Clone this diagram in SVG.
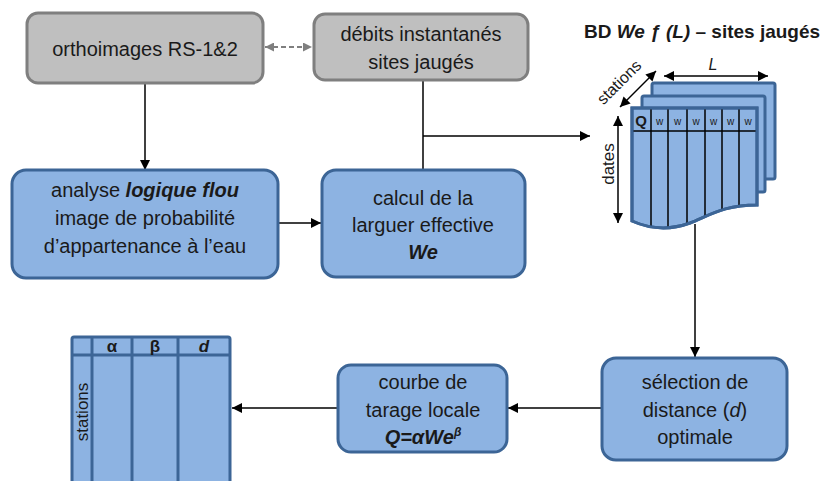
<svg xmlns="http://www.w3.org/2000/svg" width="823" height="481" viewBox="0 0 823 481">
<defs>
<style>
text{font-family:"Liberation Sans","Noto Sans",sans-serif;fill:#1a1a1a;}
.t{font-size:20px;text-anchor:middle;}
.title{font-size:19px;font-weight:bold;text-anchor:middle;}
.b{font-weight:bold;}
.i{font-style:italic;}
.gray{fill:#BFBFBF;stroke:#7F7F7F;stroke-width:3;}
.blue{fill:#8DB3E2;stroke:#3C6596;stroke-width:3;}
.sheet{fill:#8DB3E2;stroke:#3C6596;stroke-width:3;}
.conn{stroke:#000;stroke-width:1.5;fill:none;}
.thin{stroke:#000;stroke-width:1.5;}
.tbl{stroke:#3C6596;stroke-width:3;fill:none;}
</style>
<marker id="ah" viewBox="0 0 10 10" refX="10" refY="5" markerWidth="10" markerHeight="10" markerUnits="userSpaceOnUse" orient="auto">
<path d="M0,0 L10,5 L0,10 z" fill="#000"/>
</marker>
<marker id="ahs" viewBox="0 0 10 10" refX="0" refY="5" markerWidth="10" markerHeight="10" markerUnits="userSpaceOnUse" orient="auto">
<path d="M10,0 L0,5 L10,10 z" fill="#000"/>
</marker>
<marker id="gh" viewBox="0 0 10 10" refX="10" refY="5" markerWidth="9" markerHeight="9" markerUnits="userSpaceOnUse" orient="auto">
<path d="M0,0 L10,5 L0,10 z" fill="#7F7F7F"/>
</marker>
<marker id="ghs" viewBox="0 0 10 10" refX="0" refY="5" markerWidth="9" markerHeight="9" markerUnits="userSpaceOnUse" orient="auto">
<path d="M10,0 L0,5 L10,10 z" fill="#7F7F7F"/>
</marker>
<clipPath id="frontClip">
<path d="M632,108 H757 V205 C725,205 712,214 690,223 C668,231 650,229 632,221 Z"/>
</clipPath>
</defs>
<rect width="823" height="481" fill="#fff"/>

<g id="connectors">
<line class="conn" x1="145" y1="84" x2="145" y2="170" marker-end="url(#ah)"/>
<line x1="265" y1="47" x2="312" y2="47" stroke="#7F7F7F" stroke-width="2" stroke-dasharray="5,3" marker-start="url(#ghs)" marker-end="url(#gh)"/>
<line class="conn" x1="279" y1="223" x2="321" y2="223" marker-end="url(#ah)"/>
<polyline class="conn" points="423,81 423,169"/>
<line class="conn" x1="423" y1="136" x2="590" y2="136" marker-end="url(#ah)"/>
<line class="conn" x1="695" y1="224" x2="695" y2="357" marker-end="url(#ah)"/>
<line class="conn" x1="601" y1="408" x2="508" y2="408" marker-end="url(#ah)"/>
<line class="conn" x1="337" y1="408" x2="232" y2="408" marker-end="url(#ah)"/>
</g>

<g id="orthoimages">
<rect class="gray" x="27" y="13" width="236" height="70" rx="11"/>
<text class="t" x="145" y="56">orthoimages RS-1&amp;2</text>
</g>

<g id="debits">
<rect class="gray" x="314" y="14" width="214" height="66" rx="11"/>
<text class="t" x="421" y="41">débits instantanés</text>
<text class="t" x="421" y="69">sites jaugés</text>
</g>

<g id="analyse">
<rect class="blue" x="12" y="170" width="266" height="108" rx="14"/>
<text class="t" x="145" y="197">analyse <tspan class="b i">logique flou</tspan></text>
<text class="t" x="145" y="225">image de probabilité</text>
<text class="t" x="145" y="253">d’appartenance à l’eau</text>
</g>

<g id="calcul">
<rect class="blue" x="322" y="170" width="203" height="107" rx="14"/>
<text class="t" x="423" y="205">calcul de la</text>
<text class="t" x="423" y="232">larguer effective</text>
<text class="t b i" x="423" y="259">We</text>
</g>

<g id="bd">
<text class="title" x="702" y="38">BD <tspan class="i">We ƒ (L)</tspan> – sites jaugés</text>
<rect class="sheet" x="652" y="83" width="123" height="96" rx="2"/>
<rect class="sheet" x="642" y="96" width="123" height="96" rx="2"/>
<path class="sheet" d="M632,108 H757 V205 C725,205 712,214 690,223 C668,231 650,229 632,221 Z"/>
<g clip-path="url(#frontClip)">
<line class="thin" x1="632" y1="131" x2="757" y2="131"/>
<line class="thin" x1="651" y1="108" x2="651" y2="240"/>
<line class="thin" x1="668" y1="108" x2="668" y2="240"/>
<line class="thin" x1="687" y1="108" x2="687" y2="240"/>
<line class="thin" x1="705" y1="108" x2="705" y2="240"/>
<line class="thin" x1="722" y1="108" x2="722" y2="240"/>
<line class="thin" x1="739" y1="108" x2="739" y2="240"/>
</g>
<path d="M632,108 H757 V205 C725,205 712,214 690,223 C668,231 650,229 632,221 Z" fill="none" stroke="#3C6596" stroke-width="3"/>
<text x="641" y="126" font-size="15" font-weight="bold" text-anchor="middle">Q</text>
<g font-size="10" text-anchor="middle">
<text x="659.5" y="125">w</text>
<text x="677.5" y="125">w</text>
<text x="696" y="125">w</text>
<text x="713.5" y="125">w</text>
<text x="730.5" y="125">w</text>
<text x="748" y="125">w</text>
</g>
<line class="thin" x1="664" y1="76" x2="768" y2="76" marker-start="url(#ahs)" marker-end="url(#ah)"/>
<text class="i" x="713" y="70" font-size="16" text-anchor="middle">L</text>
<line class="thin" x1="620" y1="107" x2="656" y2="71" marker-start="url(#ahs)" marker-end="url(#ah)"/>
<text x="623" y="86" font-size="16" text-anchor="middle" transform="rotate(-45 623 86)">stations</text>
<line class="thin" x1="618" y1="116" x2="618" y2="223" marker-start="url(#ahs)" marker-end="url(#ah)"/>
<text x="609" y="164" font-size="17" text-anchor="middle" transform="rotate(-90 609 164)" dy="5">dates</text>
</g>

<g id="selection">
<rect class="blue" x="602" y="358" width="185" height="102" rx="14"/>
<text class="t" x="695" y="389">sélection de</text>
<text class="t" x="695" y="417">distance (<tspan class="i">d</tspan>)</text>
<text class="t" x="695" y="444">optimale</text>
</g>

<g id="courbe">
<rect class="blue" x="338" y="365" width="169" height="87" rx="13"/>
<text class="t" x="423" y="389">courbe de</text>
<text class="t" x="423" y="417">tarage locale</text>
<text class="t b i" x="423" y="444">Q=αWe<tspan font-size="12" dy="-8">β</tspan></text>
</g>

<g id="table">
<rect x="72" y="337" width="158" height="160" fill="#8DB3E2" stroke="#3C6596" stroke-width="3" rx="2"/>
<line class="tbl" x1="72" y1="355" x2="230" y2="355"/>
<line class="tbl" x1="92" y1="337" x2="92" y2="490"/>
<line class="tbl" x1="132" y1="337" x2="132" y2="490"/>
<line class="tbl" x1="178" y1="337" x2="178" y2="490"/>
<text x="112" y="352" font-size="17" font-weight="bold" text-anchor="middle">α</text>
<text x="155" y="352" font-size="17" font-weight="bold" text-anchor="middle">β</text>
<text x="204" y="352" font-size="17" font-weight="bold" font-style="italic" text-anchor="middle">d</text>
<text x="82" y="412" font-size="17" text-anchor="middle" transform="rotate(-90 82 412)" dy="6">stations</text>
</g>
</svg>
